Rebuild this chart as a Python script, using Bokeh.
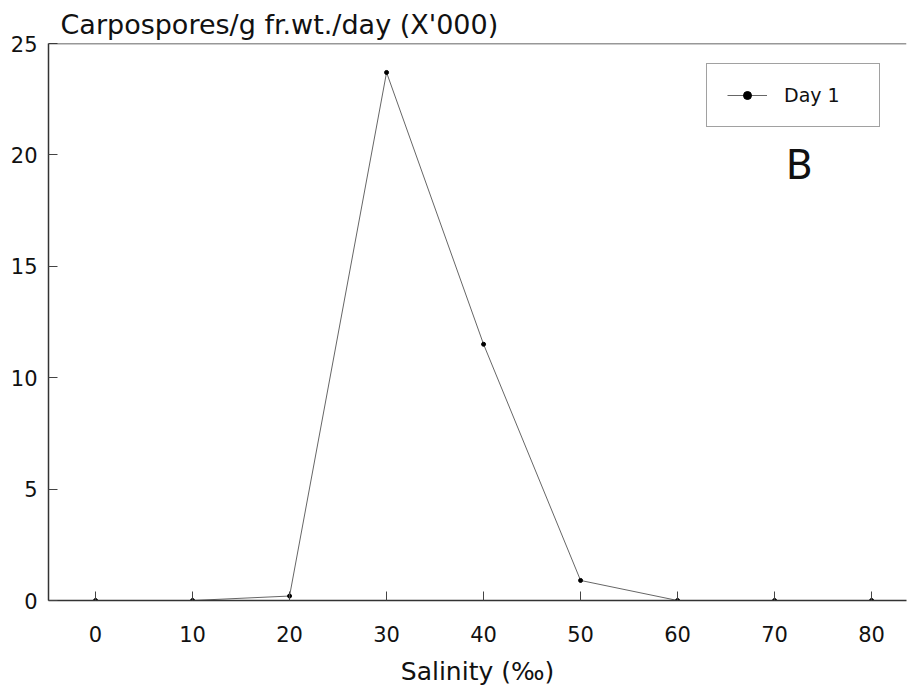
from bokeh.plotting import figure
from bokeh.models import Range1d, FixedTicker, Legend, LegendItem, Label, Span, Title
from bokeh.embed import file_html
from bokeh.resources import INLINE

salinity = [0, 10, 20, 30, 40, 50, 60, 70, 80]
day1 = [0.0, 0.0, 0.2, 23.7, 11.5, 0.9, 0.0, 0.0, 0.0]
x_ticks = [0, 10, 20, 30, 40, 50, 60, 70, 80]
y_ticks = [0, 5, 10, 15, 20, 25]

FONT = "DejaVu Sans"

p = figure(width=908, height=690, output_backend="svg", toolbar_location=None,
           x_range=Range1d(-4.85, 83.6), y_range=Range1d(0, 25),
           min_border_left=48, min_border_right=2, min_border_top=43, min_border_bottom=90)
p.outline_line_color = None
p.xgrid.visible = False
p.ygrid.visible = False

p.title = Title(text="Carpospores/g fr.wt./day (X'000)", align="left", offset=12,
                text_font=FONT, text_font_size="27px", text_font_style="normal",
                text_color="#111111", standoff=8)

for ax in (p.xaxis[0], p.yaxis[0]):
    ax.axis_line_color = "#333333"
    ax.axis_line_width = 1.5
    ax.major_tick_line_color = "#444444"
    ax.major_tick_in = 9
    ax.major_tick_out = 0
    ax.minor_tick_line_color = None
    ax.major_label_text_font = FONT
    ax.major_label_text_font_size = "21px"
    ax.major_label_text_color = "#111111"

p.xaxis.ticker = FixedTicker(ticks=x_ticks)
p.yaxis.ticker = FixedTicker(ticks=y_ticks)
p.xaxis.major_label_standoff = 25
p.yaxis.major_label_standoff = 11
p.xaxis.axis_label = "Salinity (‰)"
p.xaxis.axis_label_text_font = FONT
p.xaxis.axis_label_text_font_size = "25px"
p.xaxis.axis_label_text_font_style = "normal"
p.xaxis.axis_label_text_color = "#111111"
p.xaxis.axis_label_standoff = 12

p.add_layout(Span(location=25, dimension="width", line_color="#333333", line_width=1.5))

ln = p.line(salinity, day1, line_color="#666666", line_width=1)
pts = p.scatter(salinity, day1, marker="circle", size=4, fill_color="black", line_color="black")

legend = Legend(items=[LegendItem(label="Day 1", renderers=[ln, pts])],
                location=(658, 473), border_line_color="#444444", border_line_width=1.2,
                padding=20, glyph_width=40, label_standoff=17, label_text_font=FONT,
                label_text_font_size="19px", label_text_color="#111111",
                background_fill_alpha=1, label_height=20, label_width=75)
p.add_layout(legend, "center")

p.add_layout(Label(x=71.2, y=18.45, text="B", text_font="Roboto", text_font_size="42px",
                   text_font_style="normal", text_color="#111111"))

open("out.html", "w").write(file_html(p, INLINE))
